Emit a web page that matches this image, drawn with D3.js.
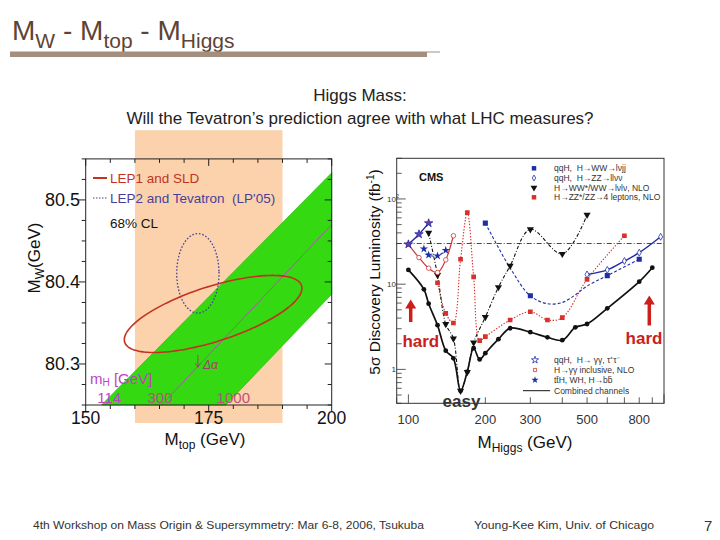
<!DOCTYPE html>
<html><head><meta charset="utf-8">
<script src="https://cdn.jsdelivr.net/npm/d3@7"></script>
<style>
body{margin:0;background:#fff}
svg{display:block}
text{font-family:"Liberation Sans",Arial,Helvetica,sans-serif}
.pre{white-space:pre}
</style>
</head><body>
<svg id="c" width="720" height="540"></svg>
<script>
// ---------------- DATA: left panel (MW vs Mtop) ----------------
const mwTicks = [80.3, 80.4, 80.5];
const mtTicks = [150, 175, 200];
const mtBand = [160, 190];                 // Tevatron top mass band
const mwBandExtent = [80.228, 80.585];
const smUpper = [[153.2, 80.25], [200, 80.533]];   // mH = 114 GeV edge
const smLower = [[178.5, 80.25], [200, 80.385]];   // mH = 1000 GeV edge
const smCenter = [[165.4, 80.25], [200, 80.47]];   // mH = 300 GeV line
const lep1Ellipse = {cx: 175.9, cy: 80.361, a: 18.05, b: 0.047, phi: 0.84};
const lep2Ellipse = {cx: 172.8, cy: 80.4105, a: 4.3, b: 0.0485, phi: Math.PI / 2};
const mhLabels = ["114", "300", "1000"];
const deltaAlpha = [172.8, 80.311, 80.296];

// ---------------- DATA: right panel (CMS discovery luminosity) ----------------
const higgsMassTicks = [100, 200, 300, 500, 800];
const discoveryRef = 30;
const combined = [[100,14.7],[115,8.7],[120,5.9],[130,3.3],[140,1.66],[150,1.35],[160,0.56],[170,0.94],[180,1.77],[190,1.31],[200,1.55],[225,2.26],[250,3.04],[300,2.73],[350,2.38],[400,2.2],[450,3.12],[500,3.41],[600,5.2],[800,10.7],[900,15.6]];
const wwLvLv = [[120,40],[130,12.8],[140,3.4],[150,2.3],[160,0.56],[170,0.93],[180,2.06],[200,4.1],[225,9.2],[250,16.4],[300,44],[400,22.6],[500,65]];
const zz4l = [[130,10.4],[140,4.55],[150,3.5],[160,19.6],[170,69],[180,12.2],[190,2.17],[200,2.42],[250,3.8],[300,4.75],[350,3.8],[400,4.05],[500,11.4],[700,37]];
const qqWWlvjj = [[200,52],[250,15.5],[300,7.3],[350,5.9],[400,6.1],[450,7.5],[500,9.5],[600,12.6],[800,19.6]];
const qqWWmarked = [200, 300, 600, 800];
const qqZZllvv = [[500,13],[600,14.7],[700,18.7],[800,23.4],[970,36]];
const qqTauTau = [[100,29.4],[110,38.6],[120,52]];
const gammaGamma = [[100,29.4],[110,20.5],[120,15.4],[130,13.7],[140,19.3],[150,37]];
const ttHbb = [[115,26],[120,22],[130,21.5],[140,25]];
const legendTop = ["qqH,  H\u2192WW\u2192l\u03bdjj", "qqH,  H\u2192ZZ\u2192ll\u03bd\u03bd", "H\u2192WW*/WW\u2192l\u03bdl\u03bd, NLO", "H\u2192ZZ*/ZZ\u21924 leptons, NLO"];
const legendBottom = ["qqH,  H\u2192 \u03b3\u03b3, \u03c4\u207a\u03c4\u207b", "H\u2192\u03b3\u03b3 inclusive, NLO", "tt\u0304H, WH, H\u2192bb\u0304", "Combined channels"];

// ---------------- DRAW ----------------
const svg = d3.select("#c");
const BLUE = "#1f2da6", RED = "#d8302a", BLK = "#111";

// Title
const title = svg.append("text").attr("x", 12).attr("y", 39.5).attr("font-size", 28).attr("fill", "#5e4434");
title.append("tspan").text("M");
title.append("tspan").attr("font-size", 21).attr("dy", 8.5).text("W");
title.append("tspan").attr("dy", -8.5).attr("class","pre").text(" - M");
title.append("tspan").attr("font-size", 21).attr("dy", 8.5).text("top");
title.append("tspan").attr("dy", -8.5).attr("class","pre").text(" - M");
title.append("tspan").attr("font-size", 21).attr("dy", 8.5).text("Higgs");
svg.append("rect").attr("x", 10).attr("y", 51.5).attr("width", 417).attr("height", 5.5).attr("fill", "#a48f7e");
svg.append("rect").attr("x", 427).attr("y", 51.5).attr("width", 13).attr("height", 1).attr("fill", "#a48f7e");

// Subtitle
svg.append("text").attr("x", 360).attr("y", 101).attr("text-anchor", "middle").attr("font-size", 17).attr("fill", "#222").text("Higgs Mass:");
svg.append("text").attr("x", 360).attr("y", 123.5).attr("text-anchor", "middle").attr("font-size", 17).attr("fill", "#222").text("Will the Tevatron\u2019s prediction agree with what LHC measures?");

// ---------- Left panel ----------
const xL = d3.scaleLinear().domain([150, 200]).range([85.7, 331.7]);
const yL = d3.scaleLinear().domain([80.25, 80.55]).range([405, 158.9]);

svg.append("rect")
  .attr("x", xL(mtBand[0])).attr("width", xL(mtBand[1]) - xL(mtBand[0]))
  .attr("y", yL(mwBandExtent[1])).attr("height", yL(mwBandExtent[0]) - yL(mwBandExtent[1]))
  .attr("fill", "#fbd2ab");

const band = [smUpper[0], smUpper[1], smLower[1], smLower[0]];
svg.append("path").attr("d", d3.line().x(d => xL(d[0])).y(d => yL(d[1])).curve(d3.curveLinearClosed)(band))
  .attr("fill", "#34d912").attr("stroke", "#2cb810").attr("stroke-width", 0.6);
svg.append("path").attr("d", d3.line().x(d => xL(d[0])).y(d => yL(d[1]))(smCenter))
  .attr("fill", "none").attr("stroke", "#a25aa8").attr("stroke-width", 1);

// frame + ticks
const lf = svg.append("g");
lf.append("rect").attr("x", xL(150)).attr("y", yL(80.55)).attr("width", xL(200) - xL(150)).attr("height", yL(80.25) - yL(80.55))
  .attr("fill", "none").attr("stroke", "#222").attr("stroke-width", 1);
const mwMinor = d3.range(80.25, 80.551, 0.025);
mwMinor.forEach(v => {
  const major = mwTicks.some(t => Math.abs(t - v) < 1e-6);
  const len = major ? 7 : 4;
  lf.append("line").attr("x1", xL(150) - len).attr("x2", xL(150)).attr("y1", yL(v)).attr("y2", yL(v)).attr("stroke", "#222");
  lf.append("line").attr("x1", xL(200) - len).attr("x2", xL(200)).attr("y1", yL(v)).attr("y2", yL(v)).attr("stroke", "#222");
});
d3.range(150, 200.1, 5).forEach(v => {
  const major = mtTicks.includes(v);
  const len = major ? 7 : 4;
  lf.append("line").attr("x1", xL(v)).attr("x2", xL(v)).attr("y1", yL(80.25)).attr("y2", yL(80.25) + len).attr("stroke", "#222");
  lf.append("line").attr("x1", xL(v)).attr("x2", xL(v)).attr("y1", yL(80.55)).attr("y2", yL(80.55) + len).attr("stroke", "#222");
});
mwTicks.forEach(v => lf.append("text").attr("x", 80).attr("y", yL(v) + 6.5).attr("text-anchor", "end").attr("font-size", 18).attr("fill", "#111").text(v.toFixed(1)));
mtTicks.forEach(v => lf.append("text").attr("x", xL(v)).attr("y", 424).attr("text-anchor", "middle").attr("font-size", 17.5).attr("fill", "#111").text(v));

// axis titles
const mtTitle = svg.append("text").attr("x", 205).attr("y", 444.5).attr("text-anchor", "middle").attr("font-size", 17).attr("fill", "#111");
mtTitle.append("tspan").text("M");
mtTitle.append("tspan").attr("font-size", 12).attr("dy", 4).text("top");
mtTitle.append("tspan").attr("dy", -4).attr("class","pre").text(" (GeV)");
const mwTitle = svg.append("text").attr("transform", "translate(40,258) rotate(-90)").attr("text-anchor", "middle").attr("font-size", 17).attr("fill", "#111");
mwTitle.append("tspan").text("M");
mwTitle.append("tspan").attr("font-size", 12).attr("dy", 4).text("W");
mwTitle.append("tspan").attr("dy", -4).text("(GeV)");

// ellipses
function ellipsePts(e) {
  return d3.range(0, 360, 3).map(d => {
    const t = d * Math.PI / 180;
    return [e.cx + e.a * Math.cos(t), e.cy + e.b * Math.cos(t - e.phi)];
  });
}
const eLine = d3.line().x(d => xL(d[0])).y(d => yL(d[1])).curve(d3.curveCardinalClosed);
svg.append("path").attr("d", eLine(ellipsePts(lep2Ellipse))).attr("fill", "none").attr("stroke", "#4a3f96").attr("stroke-width", 1.3).attr("stroke-dasharray", "1.6,1.8");
svg.append("path").attr("d", eLine(ellipsePts(lep1Ellipse))).attr("fill", "none").attr("stroke", "#c4321f").attr("stroke-width", 1.6);

// legend left
svg.append("line").attr("x1", 93).attr("x2", 107).attr("y1", 178).attr("y2", 178).attr("stroke", "#c4321f").attr("stroke-width", 2);
svg.append("text").attr("x", 110).attr("y", 183).attr("font-size", 13.5).attr("fill", "#c4321f").text("LEP1 and SLD");
svg.append("line").attr("x1", 93).attr("x2", 107).attr("y1", 198).attr("y2", 198).attr("stroke", "#4a3f96").attr("stroke-width", 1.2).attr("stroke-dasharray", "1.5,1.5");
svg.append("text").attr("x", 110).attr("y", 203).attr("font-size", 13.5).attr("fill", "#4a3f96").attr("class","pre").text("LEP2 and Tevatron  (LP'05)");
svg.append("text").attr("x", 110).attr("y", 228).attr("font-size", 13.5).attr("fill", "#111").text("68% CL");

// mH labels
const mhT = svg.append("text").attr("x", 90).attr("y", 383.5).attr("font-size", 15).attr("fill", "#c23ec2");
mhT.append("tspan").text("m");
mhT.append("tspan").attr("font-size", 10).attr("dy", 2.5).text("H");
mhT.append("tspan").attr("dy", -2.5).attr("class","pre").text(" [GeV]");
const mhPos = [154.8, 165.1, 180.0];
const mhCol = ["#c23ec2", "#b8507a", "#c2507a"];
mhLabels.forEach((s, i) => svg.append("text").attr("x", xL(mhPos[i])).attr("y", 402.5).attr("text-anchor", "middle").attr("font-size", 15).attr("fill", mhCol[i]).text(s));

// delta alpha arrow
svg.append("line").attr("x1", xL(deltaAlpha[0])).attr("x2", xL(deltaAlpha[0])).attr("y1", yL(deltaAlpha[1])).attr("y2", yL(deltaAlpha[2])).attr("stroke", "#a04070").attr("stroke-width", 1);
svg.append("path").attr("d", `M${xL(deltaAlpha[0]) - 2.5},${yL(deltaAlpha[2]) - 4}L${xL(deltaAlpha[0])},${yL(deltaAlpha[2])}L${xL(deltaAlpha[0]) + 2.5},${yL(deltaAlpha[2]) - 4}`).attr("fill", "none").attr("stroke", "#a04070");
svg.append("text").attr("x", xL(deltaAlpha[0]) + 5).attr("y", yL(deltaAlpha[2]) + 2).attr("font-size", 12).attr("font-style", "italic").attr("font-family", "DejaVu Serif, serif").attr("fill", "#a04070").text("\u0394\u03b1");

// ---------- Right panel (CMS) ----------
const xR = d3.scaleLog().domain([90, 1000]).range([396.7, 664]);
const yR = d3.scaleLog().domain([0.4, 300]).range([403.3, 158.3]);
const R = svg.append("g");
R.append("defs").append("clipPath").attr("id", "cmsclip").append("rect")
  .attr("x", xR(90)).attr("y", yR(300)).attr("width", xR(1000) - xR(90)).attr("height", yR(0.4) - yR(300));
R.append("rect").attr("x", xR(90)).attr("y", yR(300)).attr("width", xR(1000) - xR(90)).attr("height", yR(0.4) - yR(300))
  .attr("fill", "#fff").attr("stroke", "#333").attr("stroke-width", 1);

// y ticks
yR.ticks().forEach(v => {
  const lg = Math.log10(v);
  const major = Math.abs(lg - Math.round(lg)) < 1e-9;
  R.append("line").attr("x1", xR(90)).attr("x2", xR(90) + (major ? 9 : 5)).attr("y1", yR(v)).attr("y2", yR(v)).attr("stroke", "#333").attr("stroke-width", 0.8);
});
xR.ticks().forEach(v => {
  const lg = Math.log10(v);
  const major = Math.abs(lg - Math.round(lg)) < 1e-9;
  R.append("line").attr("x1", xR(v)).attr("x2", xR(v)).attr("y1", yR(0.4)).attr("y2", yR(0.4) - (major ? 9 : 6)).attr("stroke", "#333").attr("stroke-width", 0.8);
});
R.append("text").attr("x", 396).attr("y", yR(1) + 3).attr("text-anchor", "end").attr("font-size", 8).attr("fill", "#333").text("1");
R.append("text").attr("x", 396).attr("y", yR(10) + 3).attr("text-anchor", "end").attr("font-size", 8).attr("fill", "#333").text("10");
const t100 = R.append("text").attr("x", 399).attr("y", yR(100) + 3).attr("text-anchor", "end").attr("font-size", 8).attr("fill", "#333");
t100.append("tspan").text("10");
t100.append("tspan").attr("font-size", 5.5).attr("dy", -4).text("2");

higgsMassTicks.forEach(v => R.append("text").attr("x", xR(v)).attr("y", 424).attr("text-anchor", "middle").attr("font-size", 13).attr("fill", "#333").text(v));

const yTitle = R.append("text").attr("transform", "translate(380,272) rotate(-90)").attr("text-anchor", "middle").attr("font-size", 15.5).attr("fill", "#111");
yTitle.append("tspan").text("5\u03c3 Discovery Luminosity (fb");
yTitle.append("tspan").attr("font-size", 10).attr("dy", -6).text("-1");
yTitle.append("tspan").attr("dy", 6).text(")");
const xTitle = R.append("text").attr("x", 525).attr("y", 448).attr("text-anchor", "middle").attr("font-size", 17).attr("fill", "#111");
xTitle.append("tspan").text("M");
xTitle.append("tspan").attr("font-size", 12).attr("dy", 4).text("Higgs");
xTitle.append("tspan").attr("dy", -4).attr("class","pre").text(" (GeV)");

R.append("text").attr("x", 419).attr("y", 181).attr("font-size", 11).attr("font-weight", "bold").attr("fill", "#111").text("CMS");

// reference line
const P = R.append("g").attr("clip-path", "url(#cmsclip)");
P.append("line").attr("x1", xR(90)).attr("x2", xR(1000)).attr("y1", yR(discoveryRef)).attr("y2", yR(discoveryRef))
  .attr("stroke", "#333").attr("stroke-width", 0.9).attr("stroke-dasharray", "5,2,1,2");

const cl = d3.line().x(d => xR(d[0])).y(d => yR(d[1])).curve(d3.curveCatmullRom.alpha(0.5));
function series(data, color, width, dash) {
  P.append("path").attr("d", cl(data)).attr("fill", "none").attr("stroke", color).attr("stroke-width", width).attr("stroke-dasharray", dash || null);
}
series(zz4l, RED, 1.1, "1.4,1.6");
series(qqWWlvjj, BLUE, 1.1, "3,2");
series(wwLvLv, BLK, 1.1, "3.5,1.8,1,1.8");
series(gammaGamma, "#c83a38", 1.2);
series(qqTauTau, BLUE, 1.4);
series(ttHbb, BLUE, 1.1, "3,2");
series(qqZZllvv, BLUE, 1.4);
series(combined, BLK, 1.7);

function sym(g, type, size, x, y, fill, stroke, rot) {
  g.append("path").attr("d", d3.symbol().type(type).size(size)())
    .attr("transform", `translate(${x},${y})` + (rot ? ` rotate(${rot})` : ""))
    .attr("fill", fill).attr("stroke", stroke || "none").attr("stroke-width", 0.8);
}
zz4l.forEach(d => sym(P, d3.symbolSquare, 22, xR(d[0]), yR(d[1]), RED));
qqWWlvjj.filter(d => qqWWmarked.includes(d[0])).forEach(d => sym(P, d3.symbolSquare, 26, xR(d[0]), yR(d[1]), BLUE));
wwLvLv.forEach(d => sym(P, d3.symbolTriangle, 22, xR(d[0]), yR(d[1]), BLK, null, 180));
gammaGamma.forEach(d => sym(P, d3.symbolCircle, 16, xR(d[0]), yR(d[1]), "#fff", "#c83a38"));
qqTauTau.forEach(d => sym(P, d3.symbolStar, 22, xR(d[0]), yR(d[1]), "#7040a0", BLUE));
ttHbb.forEach(d => sym(P, d3.symbolStar, 22, xR(d[0]), yR(d[1]), BLUE));
qqZZllvv.forEach(d => sym(P, d3.symbolDiamond, 14, xR(d[0]), yR(d[1]), "#fff", BLUE));
combined.forEach(d => sym(P, d3.symbolCircle, 18, xR(d[0]), yR(d[1]), BLK));

// CMS legends
const legTopY = [168.3, 178, 187.7, 197.3];
const legTopSym = [[d3.symbolSquare, 20, BLUE, null, 0], [d3.symbolDiamond, 10, "#fff", BLUE, 0], [d3.symbolTriangle, 20, BLK, null, 180], [d3.symbolSquare, 20, RED, null, 0]];
legendTop.forEach((s, i) => {
  const m = legTopSym[i];
  sym(R, m[0], m[1], 534, legTopY[i], m[2], m[3], m[4]);
  R.append("text").attr("x", 554).attr("y", legTopY[i] + 3).attr("font-size", 8.5).attr("fill", "#333").attr("class","pre").text(s);
});
const legBotY = [360, 370, 380, 390.7];
const legBotSym = [[d3.symbolStar, 16, "#fff", BLUE], [d3.symbolSquare, 10, "#fff", RED], [d3.symbolStar, 16, BLUE, null]];
legendBottom.forEach((s, i) => {
  if (i < 3) {
    const m = legBotSym[i];
    sym(R, m[0], m[1], 535, legBotY[i], m[2], m[3]);
  } else {
    R.append("line").attr("x1", 523).attr("x2", 550).attr("y1", legBotY[i]).attr("y2", legBotY[i]).attr("stroke", BLK).attr("stroke-width", 1);
  }
  R.append("text").attr("x", 554).attr("y", legBotY[i] + 3).attr("font-size", 8.5).attr("fill", "#333").attr("class","pre").text(s);
});

// hard / easy annotations
function arrow(x, yTop, yBot) {
  R.append("line").attr("x1", x).attr("x2", x).attr("y1", yBot).attr("y2", yTop + 8).attr("stroke", "#cc1f1a").attr("stroke-width", 3.5);
  R.append("path").attr("d", `M${x - 5.5},${yTop + 9}L${x},${yTop}L${x + 5.5},${yTop + 9}Z`).attr("fill", "#cc1f1a");
}
arrow(410.7, 299.5, 322);
arrow(649.3, 295.5, 325.5);
R.append("text").attr("x", 420.8).attr("y", 346.5).attr("text-anchor", "middle").attr("font-size", 17).attr("font-weight", "bold").attr("fill", "#cc1f1a").text("hard");
R.append("text").attr("x", 644).attr("y", 343.5).attr("text-anchor", "middle").attr("font-size", 17).attr("font-weight", "bold").attr("fill", "#cc1f1a").text("hard");
R.append("text").attr("x", 461.5).attr("y", 406.5).attr("text-anchor", "middle").attr("font-size", 17).attr("font-weight", "bold").attr("fill", "#333").text("easy");

// footer
svg.append("text").attr("x", 33).attr("y", 529).attr("font-size", 11.5).attr("fill", "#333").attr("textLength", 391).attr("lengthAdjust", "spacingAndGlyphs")
  .text("4th Workshop on Mass Origin & Supersymmetry: Mar 6-8, 2006, Tsukuba");
svg.append("text").attr("x", 474).attr("y", 529).attr("font-size", 11.5).attr("fill", "#333").attr("textLength", 180).attr("lengthAdjust", "spacingAndGlyphs")
  .text("Young-Kee Kim, Univ. of Chicago");
svg.append("text").attr("x", 704).attr("y", 531).attr("font-size", 15).attr("fill", "#333").text("7");
</script>
</body></html>
